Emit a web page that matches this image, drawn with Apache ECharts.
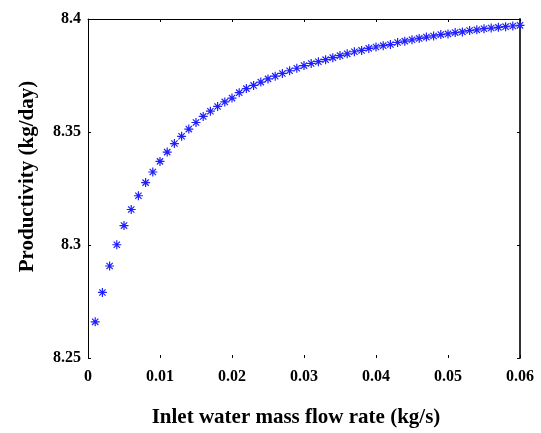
<!DOCTYPE html>
<html><head><meta charset="utf-8">
<script src="https://cdn.jsdelivr.net/npm/echarts@6/dist/echarts.min.js"></script>
<style>html,body{margin:0;padding:0;background:#fff}#c{width:541px;height:433px}</style>
</head><body><div id="c"></div>
<script>
const flowRates = [0.001,0.002,0.003,0.004,0.005,0.006,0.007,0.008,0.009,0.010,
  0.011,0.012,0.013,0.014,0.015,0.016,0.017,0.018,0.019,0.020,
  0.021,0.022,0.023,0.024,0.025,0.026,0.027,0.028,0.029,0.030,
  0.031,0.032,0.033,0.034,0.035,0.036,0.037,0.038,0.039,0.040,
  0.041,0.042,0.043,0.044,0.045,0.046,0.047,0.048,0.049,0.050,
  0.051,0.052,0.053,0.054,0.055,0.056,0.057,0.058,0.059,0.060];
const productivity = [8.2660,8.2790,8.2907,8.3001,8.3086,8.3157,8.3218,8.3276,8.3323,8.3370,
  8.3411,8.3449,8.3481,8.3513,8.3542,8.3569,8.3592,8.3613,8.3633,8.3650,
  8.3674,8.3692,8.3706,8.3721,8.3735,8.3747,8.3759,8.3771,8.3782,8.3794,
  8.3803,8.3811,8.3820,8.3829,8.3838,8.3846,8.3855,8.3861,8.3870,8.3876,
  8.3882,8.3887,8.3896,8.3902,8.3908,8.3914,8.3920,8.3925,8.3931,8.3934,
  8.3940,8.3943,8.3949,8.3952,8.3957,8.3960,8.3963,8.3966,8.3969,8.3972];
const xTicks = ['0','0.01','0.02','0.03','0.04','0.05','0.06'];
const yTicks = ['8.25','8.3','8.35','8.4'];
const xTitle = 'Inlet water mass flow rate (kg/s)';
const yTitle = 'Productivity (kg/day)';

const font = 'Liberation Serif';
const lbl = {color:'#000', fontFamily:font, fontWeight:'bold', fontSize:16};
const chart = echarts.init(document.getElementById('c'), null, {renderer:'canvas'});
const star = 'path://M0,-5L0,5M-5,0L5,0M-3.5,-3.5L3.5,3.5M-3.5,3.5L3.5,-3.5';
chart.setOption({
  animation:false,
  grid:{left:88, top:19, right:21, bottom:73, containLabel:false},
  xAxis:[{
    type:'value', min:0, max:0.06, interval:0.01, position:'bottom',
    name:xTitle, nameLocation:'middle', nameGap:49,
    nameTextStyle:{color:'#000', fontFamily:font, fontWeight:'bold', fontSize:21, padding:[0,16,0,0]},
    axisLine:{show:false},
    axisTick:{show:true, inside:true, length:3, lineStyle:{color:'#000'}},
    axisLabel:{...lbl, margin:11, formatter:(v)=>xTicks[Math.round(v*100)]},
    splitLine:{show:false}
  },{
    type:'value', min:0, max:0.06, interval:0.01, position:'top',
    axisLine:{show:true, onZero:false, lineStyle:{color:'#000', width:1}},
    axisTick:{show:true, inside:true, length:3, lineStyle:{color:'#000'}},
    axisLabel:{show:false}, splitLine:{show:false}
  }],
  yAxis:[{
    type:'value', min:8.25, max:8.4, interval:0.05, position:'left',
    name:yTitle, nameLocation:'middle', nameGap:50, nameRotate:90,
    nameTextStyle:{color:'#000', fontFamily:font, fontWeight:'bold', fontSize:21, padding:[0,0,0,24]},
    axisLine:{show:true, onZero:false, lineStyle:{color:'#000', width:1}},
    axisTick:{show:true, inside:true, length:3, lineStyle:{color:'#000'}},
    axisLabel:{...lbl, margin:7, formatter:(v)=>yTicks[Math.round((v-8.25)/0.05)]},
    splitLine:{show:false}
  },{
    type:'value', min:8.25, max:8.4, interval:0.05, position:'right',
    axisLine:{show:true, onZero:false, lineStyle:{color:'#333', width:2}},
    axisTick:{show:true, inside:true, length:3, lineStyle:{color:'#000'}},
    axisLabel:{show:false}, splitLine:{show:false}
  }],
  series:[{
    type:'scatter', xAxisIndex:0, yAxisIndex:0,
    data: flowRates.map((x,i)=>[x, productivity[i]]),
    symbol: star, symbolSize:9,
    itemStyle:{color:'none', borderColor:'#1f1fff', borderWidth:1.2, opacity:1}
  }]
});
</script></body></html>
